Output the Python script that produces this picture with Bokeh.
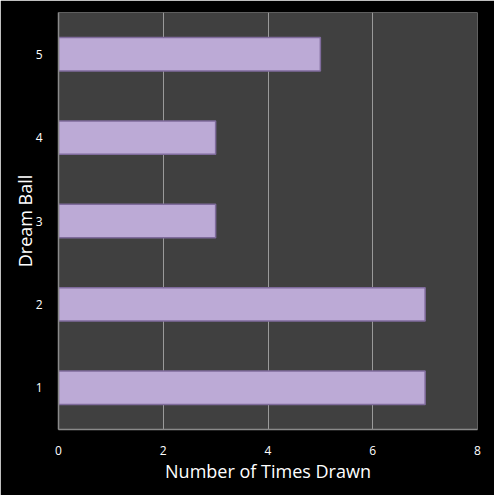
from bokeh.plotting import figure
from bokeh.models import ColumnDataSource, FactorRange, Range1d, FixedTicker
from bokeh.embed import file_html
from bokeh.resources import INLINE

# Dream ball draw counts
balls = ["1", "2", "3", "4", "5"]
times_drawn = [7, 7, 3, 3, 5]
x_ticks = [0, 2, 4, 6, 8]

source = ColumnDataSource(data=dict(ball=balls, count=times_drawn))

p = figure(
    width=494, height=495,
    y_range=FactorRange(*balls, range_padding=0),
    x_range=Range1d(0, 8),
    output_backend="svg", toolbar_location=None,
    background_fill_color="#404040", border_fill_color="#000000",
    min_border_left=58, min_border_right=17, min_border_top=12, min_border_bottom=66,
)
p.outline_line_color = None

p.hbar(y="ball", right="count", left=0, height=0.4, source=source,
       fill_color="#bcaad6", line_color="#7f6b9c", line_width=1.5)

p.xaxis.ticker = FixedTicker(ticks=x_ticks)
p.xgrid.grid_line_color = "#9a9a9a"
p.xgrid.grid_line_width = 1
p.ygrid.grid_line_color = None

for ax in (p.xaxis[0], p.yaxis[0]):
    ax.axis_line_color = "#8a8a8a"
    ax.axis_line_width = 1.5
    ax.major_tick_line_color = None
    ax.minor_tick_line_color = None
    ax.major_label_text_color = "#ffffff"
    ax.major_label_text_font = "Open Sans"
    ax.major_label_text_font_size = "12px"
    ax.axis_label_text_color = "#ffffff"
    ax.axis_label_text_font = "Open Sans"
    ax.axis_label_text_font_size = "18px"
    ax.axis_label_text_font_style = "normal"

p.xaxis.axis_label = "Number of Times Drawn"
p.yaxis.axis_label = "Dream Ball"
p.xaxis.major_label_standoff = 10
p.yaxis.major_label_standoff = 10
p.xaxis.axis_label_standoff = 1
p.yaxis.axis_label_standoff = -4

open("out.html", "w").write(file_html(p, INLINE))
